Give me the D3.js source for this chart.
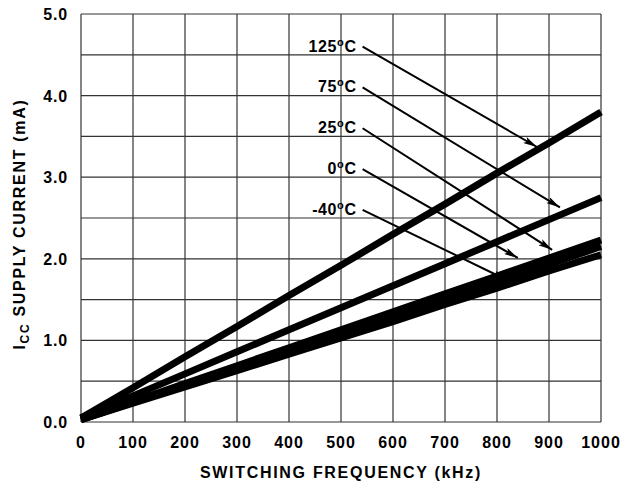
<!DOCTYPE html>
<html>
<head>
<meta charset="utf-8">
<script src="https://cdn.jsdelivr.net/npm/d3@7"></script>
<style>
 body { margin: 0; background: #fff; }
 text { font-family: "Liberation Sans", Arial, sans-serif; font-weight: bold; fill: #000; }
</style>
</head>
<body>
<div id="chart"></div>
<script>
// 频率 (kHz)
var freqs = [0, 100, 200, 300, 400, 500, 600, 700, 800, 900, 1000];
// 各温度下的电流 (mA)
var temps = ["125", "75", "25", "0", "-40"];
var icc125 = [0.05, 0.42, 0.80, 1.17, 1.55, 1.92, 2.30, 2.67, 3.05, 3.42, 3.80];
var icc75 = [0.05, 0.32, 0.59, 0.86, 1.13, 1.40, 1.67, 1.94, 2.21, 2.48, 2.75];
var icc25 = [0.03, 0.25, 0.47, 0.69, 0.91, 1.13, 1.35, 1.57, 1.79, 2.01, 2.23];
var icc0 = [0.03, 0.24, 0.45, 0.66, 0.87, 1.08, 1.30, 1.50, 1.72, 1.93, 2.15];
var iccM40 = [0.03, 0.23, 0.43, 0.63, 0.83, 1.03, 1.23, 1.44, 1.64, 1.85, 2.05];
var series = [icc125, icc75, icc25, icc0, iccM40];
// 刻度
var xTicks = [0, 100, 200, 300, 400, 500, 600, 700, 800, 900, 1000];
var yTicks = [0, 1, 2, 3, 4, 5];
var yGrid = [0, 0.5, 1, 1.5, 2, 2.5, 3, 3.5, 4, 4.5, 5];
// 标注: 文字位置 -> 箭头终点 (kHz, mA)
var labelAt = [[530, 4.6], [530, 4.1], [530, 3.6], [530, 3.1], [530, 2.6]];
var arrowTip = [[877, 3.37], [921, 2.63], [906, 2.11], [840, 2.01], [819, 1.74]];

var width = 629, height = 487;
var svg = d3.select("#chart").append("svg")
 .attr("width", width).attr("height", height);

var x = d3.scaleLinear().domain([0, 1000]).range([81, 601]);
var y = d3.scaleLinear().domain([0, 5]).range([422, 14]);

// 网格
svg.selectAll(".vgrid").data(xTicks).enter().append("line")
 .attr("x1", function(d) { return x(d); }).attr("x2", function(d) { return x(d); })
 .attr("y1", y(0)).attr("y2", y(5))
 .attr("stroke", "#333").attr("stroke-width", 1.2);
svg.selectAll(".hgrid").data(yGrid).enter().append("line")
 .attr("y1", function(d) { return y(d); }).attr("y2", function(d) { return y(d); })
 .attr("x1", x(0)).attr("x2", x(1000))
 .attr("stroke", "#333").attr("stroke-width", 1.2);

// 曲线
var line = d3.line()
 .x(function(d, i) { return x(freqs[i]); })
 .y(function(d) { return y(d); });
svg.selectAll(".curve").data(series).enter().append("path")
 .attr("d", line)
 .attr("fill", "none")
 .attr("stroke", "#000")
 .attr("stroke-width", function(d, i) { return i < 2 ? 7 : 7; });

// 箭头
svg.append("defs").append("marker")
 .attr("id", "arr").attr("viewBox", "0 0 14 7")
 .attr("refX", 14).attr("refY", 3.5)
 .attr("markerWidth", 14).attr("markerHeight", 7)
 .attr("markerUnits", "userSpaceOnUse")
 .attr("orient", "auto")
 .append("path").attr("d", "M0,0 L14,3.5 L0,7 L3,3.5 Z").attr("fill", "#000");

svg.selectAll(".arrow").data(temps).enter().append("line")
 .attr("x1", function(d, i) { return x(labelAt[i][0]) + 6; })
 .attr("y1", function(d, i) { return y(labelAt[i][1]); })
 .attr("x2", function(d, i) { return x(arrowTip[i][0]); })
 .attr("y2", function(d, i) { return y(arrowTip[i][1]); })
 .attr("stroke", "#000").attr("stroke-width", 2)
 .attr("marker-end", "url(#arr)");

var lbl = svg.selectAll(".tlabel").data(temps).enter().append("text")
 .attr("x", function(d, i) { return x(labelAt[i][0]); })
 .attr("y", function(d, i) { return y(labelAt[i][1]) + 5; })
 .attr("text-anchor", "end")
 .style("font-size", "16px")
 .style("letter-spacing", "0.6px");
lbl.append("tspan").text(function(d) { return d; });
lbl.append("tspan").attr("dy", -6).style("font-size", "11px").text("o");
lbl.append("tspan").attr("dy", 6).text("C");

// 刻度文字
svg.selectAll(".xt").data(xTicks).enter().append("text")
 .attr("x", function(d) { return x(d); })
 .attr("y", 448)
 .attr("text-anchor", "middle")
 .style("font-size", "16px")
 .style("letter-spacing", "1px")
 .text(function(d) { return d; });
svg.selectAll(".yt").data(yTicks).enter().append("text")
 .attr("x", 68)
 .attr("y", function(d) { return y(d) + 6; })
 .attr("text-anchor", "end")
 .style("font-size", "16px")
 .style("letter-spacing", "0.8px")
 .text(function(d) { return d3.format(".1f")(d); });

// 轴标题
svg.append("text")
 .attr("x", 341).attr("y", 478)
 .attr("text-anchor", "middle")
 .style("font-size", "16px")
 .style("letter-spacing", "1.7px")
 .text("SWITCHING FREQUENCY (kHz)");

var yt = svg.append("text")
 .attr("transform", "translate(25,224) rotate(-90)")
 .attr("text-anchor", "middle")
 .style("font-size", "16px")
 .style("letter-spacing", "1.7px");
yt.append("tspan").text("I");
yt.append("tspan").attr("dy", 4).style("font-size", "12px").text("CC");
yt.append("tspan").attr("dy", -4).text(" SUPPLY CURRENT (mA)");
</script>
</body>
</html>
